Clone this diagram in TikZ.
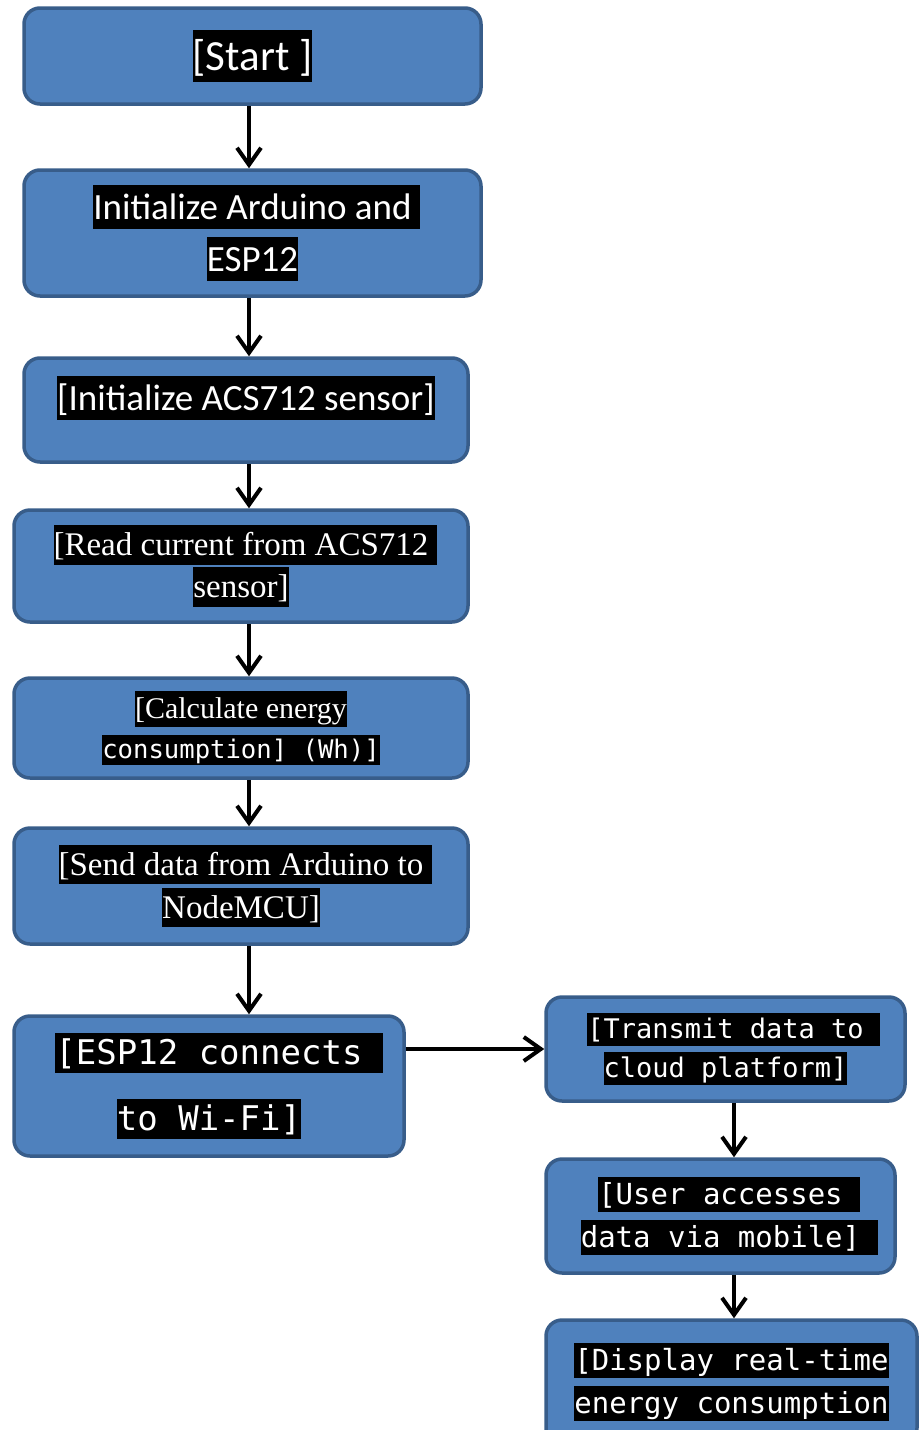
\documentclass[tikz,border=0pt]{standalone}
\usepackage{fontspec}
\setmainfont{Carlito}
\newfontfamily\serifface{Liberation Serif}
\newfontfamily\monoface{DejaVu Sans Mono}
\usetikzlibrary{arrows.meta,calc}
\definecolor{boxfill}{HTML}{4F81BD}
\definecolor{boxline}{HTML}{385D8A}
\newcommand\fs[2]{\fontsize{#1}{#2}\selectfont}
\newcommand\hl[1]{{\setlength\fboxsep{0pt}\colorbox{black}{\rule[-.27em]{0pt}{1.2em}#1}}}
% highlighted line with a trailing space that does not count for centring
\newcommand\hls[1]{\hl{#1\ }\hspace*{-\fontdimen2\font}}
\tikzset{blk/.style={draw=boxline,fill=boxfill,line width=3.5pt,rounded corners=16pt,inner sep=0pt,align=center,text=white},
arr/.style={-{Straight Barb[length=17pt,width=24pt]},line width=4pt}}

\begin{document}
\begin{tikzpicture}[x=1pt,y=-1pt]
\useasboundingbox (0,0) rectangle (922,1430);
\coordinate (spine) at (249,0);
\coordinate (rspine) at (734,0);
\node[blk,minimum width=457pt,minimum height=96pt,font={\fs{43}{52}}] (start) at (252.5,56) {\hl{[Start ]}};
\node[blk,minimum width=457pt,minimum height=126pt,font={\fs{37}{52}}] (init) at (252.5,233) {\hls{Initialize Arduino and}\\\hl{ESP12}};
\node[blk,minimum width=444pt,minimum height=104pt,font={\fs{37}{48}}] (acs) at (246,410) {\raisebox{0pt}[0pt][0pt]{\hl{[Initialize ACS712 sensor]}}};
\node[blk,minimum width=454pt,minimum height=112pt,font={\serifface\fs{33}{42}}] (read) at (241,566) {\hls{[Read current from ACS712}\\\hl{sensor]}};
\node[blk,minimum width=454pt,minimum height=100pt,font={\fs{30}{40}}] (calc) at (241,728) {{\serifface\hl{[Calculate energy}}\\{\monoface\fs{25.6}{40}\hl{consumption] (Wh)]}}};
\node[blk,minimum width=454pt,minimum height=116pt,font={\serifface\fs{33}{43}}] (send) at (241,886) {\hls{[Send data from Arduino to}\\\hl{NodeMCU]}};
\node[blk,minimum width=390pt,minimum height=140pt,font={\monoface\fs{34}{66}}] (wifi) at (209,1086) {\hls{[ESP12 connects}\\\hl{to Wi-Fi]}};
\node[blk,minimum width=359pt,minimum height=104pt,font={\monoface\fs{27}{39}}] (cloud) at (725.5,1049) {\hls{[Transmit data to}\\\hl{cloud platform]}};
\node[blk,minimum width=349pt,minimum height=114pt,font={\monoface\fs{29}{43}}] (user) at (720.5,1216) {\hls{[User accesses}\\\hls{data via mobile]}};
\node[blk,minimum width=371pt,minimum height=124pt,font={\monoface\fs{29}{43}}] (disp) at (731.5,1382) {\hl{[Display real-time}\\\hl{energy consumption}};
% main chain
\draw[arr] (start.south -| spine) -- (init.north -| spine);
\draw[arr] (init.south -| spine) -- (acs.north -| spine);
\draw[arr] (acs.south -| spine) -- (read.north -| spine);
\draw[arr] (read.south -| spine) -- (calc.north -| spine);
\draw[arr] (calc.south -| spine) -- (send.north -| spine);
\draw[arr] (send.south -| spine) -- (wifi.north -| spine);
% cloud side
\draw[arr] (cloud.west -| wifi.east) -- (cloud.west);
\draw[arr] (cloud.south -| rspine) -- (user.north -| rspine);
\draw[arr] (user.south -| rspine) -- (disp.north -| rspine);
\end{tikzpicture}
\end{document}
